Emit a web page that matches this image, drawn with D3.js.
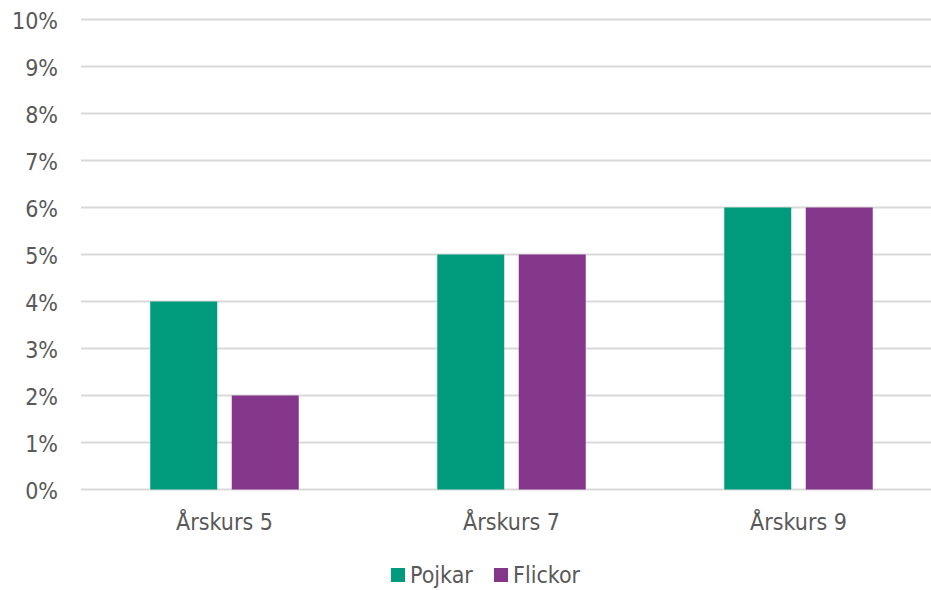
<!DOCTYPE html>
<html><head><meta charset="utf-8">
<script src="https://cdn.jsdelivr.net/npm/d3@7"></script>
<style>html,body{margin:0;padding:0;background:#fff;overflow:hidden;}svg{display:block;font-family:"DejaVu Sans Condensed","DejaVu Sans",sans-serif;}</style>
</head><body>
<svg id="c" width="931" height="590"></svg>
<script>
const categories = ["Årskurs 5", "Årskurs 7", "Årskurs 9"];
const seriesNames = ["Pojkar", "Flickor"];
const pojkar = [4, 5, 6];
const flickor = [2, 5, 6];
const yTicks = [0,1,2,3,4,5,6,7,8,9,10];
const colors = ["#009B7D", "#84378A"];

(function(){
const svg = d3.select("#c");
const FONT = "DejaVu Sans Condensed, DejaVu Sans, sans-serif";
const mLeft = 81, mRight = 942, mTop = 19.5, mBottom = 489.5;
const x = d3.scaleBand().domain(categories).range([mLeft, mRight]).paddingInner(0).paddingOuter(0);
const y = d3.scaleLinear().domain([0, 10]).range([mBottom, mTop]);
const inner = d3.scaleBand().domain(seriesNames).range([0, x.bandwidth()]).paddingInner(0.178).paddingOuter(0.85);

// gridlines
svg.append("g").selectAll("line").data(yTicks).join("line")
  .attr("x1", mLeft).attr("x2", 931)
  .attr("y1", d => y(d)).attr("y2", d => y(d))
  .attr("stroke", "#d9d9d9").attr("stroke-width", 2);

// y labels
const yAxis = d3.axisLeft(y).tickValues(yTicks).tickFormat(d => d + "%").tickSize(0).tickPadding(0);
const ya = svg.append("g").attr("transform", `translate(58,0)`).call(yAxis);
ya.select(".domain").remove();
ya.selectAll("text").attr("fill", "#595959").attr("font-size", 23).attr("font-family", FONT).attr("dy", "0.4em");

// bars
const data = [pojkar, flickor];
const g = svg.append("g");
categories.forEach((c, i) => {
  seriesNames.forEach((s, j) => {
    g.append("rect")
      .attr("x", x(c) + inner(s))
      .attr("width", inner.bandwidth())
      .attr("y", y(data[j][i]))
      .attr("height", y(0) - y(data[j][i]))
      .attr("fill", colors[j]);
  });
});

// x labels
const xAxis = d3.axisBottom(x).tickSize(0).tickPadding(0);
const xa = svg.append("g").attr("transform", `translate(0,530)`).call(xAxis);
xa.select(".domain").remove();
xa.selectAll("text").attr("fill", "#595959").attr("font-size", 23).attr("font-family", FONT).attr("dy", "0");

// legend
const leg = svg.append("g");
const legX = [391, 494];
seriesNames.forEach((s, j) => {
  leg.append("rect").attr("x", legX[j]).attr("y", 568).attr("width", 14).attr("height", 14).attr("fill", colors[j]);
  leg.append("text").attr("x", legX[j] + 19).attr("y", 583).text(s)
    .attr("fill", "#595959").attr("font-size", 23).attr("font-family", FONT);
});
})();
</script>
</body></html>
